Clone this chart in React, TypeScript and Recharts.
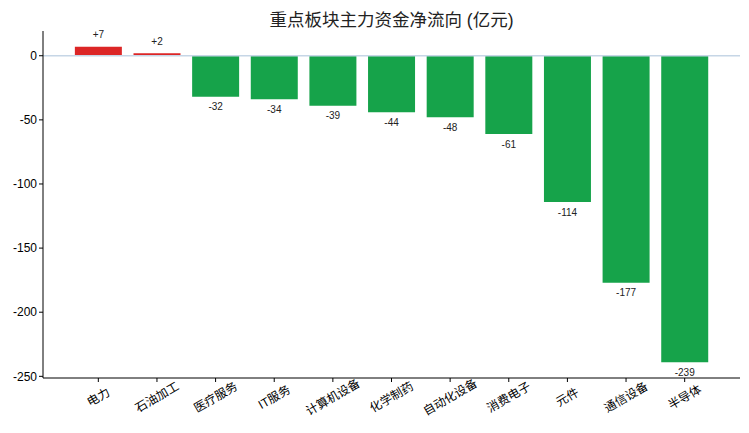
import { BarChart, Bar, XAxis, YAxis, ReferenceLine, Cell, LabelList } from 'recharts';

const sectors = ['电力', '石油加工', '医疗服务', 'IT服务', '计算机设备', '化学制药', '自动化设备', '消费电子', '元件', '通信设备', '半导体'];
const netFlow = [7, 2, -32, -34, -39, -44, -48, -61, -114, -177, -239];
const yTicks = [0, -50, -100, -150, -200, -250];

const FONT = '"Liberation Sans", Arial, "Noto Sans CJK SC", sans-serif';
const UP = '#dc2626';
const DOWN = '#16a34a';

const data = sectors.map((name, i) => ({ name, value: netFlow[i] }));

const SectorTick = ({ x, y, payload }: any) => (
  <g transform={`translate(${x},${y + 13}) rotate(-30)`}>
    <text textAnchor="middle" dy="0.35em" fontSize={12} fill="#000" fontFamily={FONT}>
      {payload.value}
    </text>
  </g>
);

const ValueLabel = ({ x, y, width, height, value }: any) => {
  const top = Math.min(y, y + height);
  const bottom = Math.max(y, y + height);
  const pos = value >= 0;
  return (
    <text
      x={x + width / 2}
      y={pos ? top - 11 : bottom + 11}
      textAnchor="middle"
      dominantBaseline="middle"
      fontSize={10}
      fill="#222"
      fontFamily={FONT}
    >
      {pos ? `+${value}` : value}
    </text>
  );
};

export default function App() {
  return (
    <div style={{ position: 'absolute', left: 0, top: 0, width: 749, height: 433, background: '#fff', fontFamily: FONT }}>
      <div style={{ position: 'absolute', left: 43, width: 697, top: 6, textAlign: 'center', fontSize: 17.5, color: '#222' }}>
        重点板块主力资金净流向 (亿元)
      </div>
      <BarChart width={749} height={433} data={data} margin={{ top: 31, right: 9, left: 0, bottom: 0 }} barCategoryGap="10%">
        <XAxis
          dataKey="name"
          interval={0}
          padding={{ left: 26, right: 26 }}
          tick={<SectorTick />}
          tickSize={4}
          axisLine={{ stroke: '#000' }}
          tickLine={{ stroke: '#000' }}
          height={55}
        />
        <YAxis
          width={43}
          domain={[-251.3, 19.3]}
          ticks={yTicks}
          allowDataOverflow
          tick={{ fontSize: 12, fill: '#000', fontFamily: FONT }}
          tickSize={4}
          axisLine={{ stroke: '#000' }}
          tickLine={{ stroke: '#000' }}
        />
        <Bar dataKey="value" isAnimationActive={false}>
          {data.map((d, i) => (
            <Cell key={`cell-${i}`} fill={d.value >= 0 ? UP : DOWN} />
          ))}
          <LabelList dataKey="value" content={<ValueLabel />} />
        </Bar>
        <ReferenceLine y={0} stroke="#c6d6e6" strokeWidth={1.5} />
      </BarChart>
    </div>
  );
}
